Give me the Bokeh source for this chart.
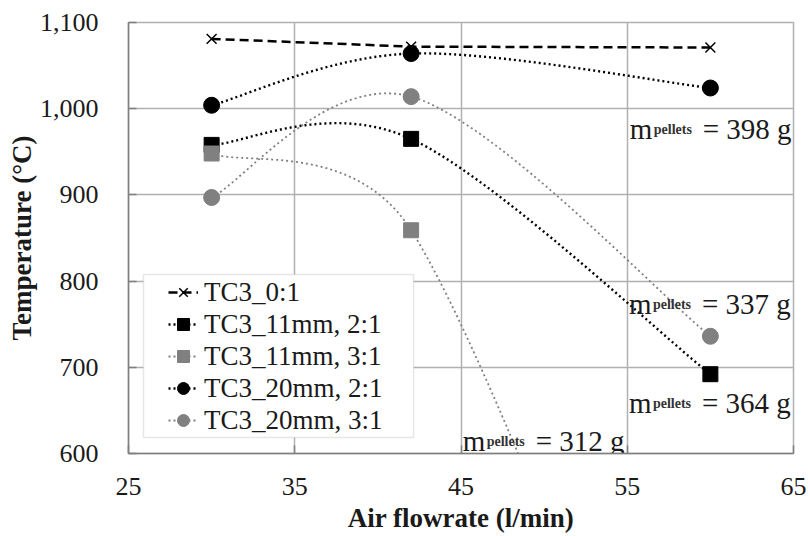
import numpy as np
from bokeh.plotting import figure
from bokeh.models import (Range1d, Legend, LegendItem, ColumnDataSource, FixedTicker,
                          NumeralTickFormatter, BoxAnnotation)
from bokeh.core.properties import value
from bokeh.embed import file_html
from bokeh.resources import INLINE

# ---------------- data ----------------
x_flow = [30, 42, 60]
tc3_0_1 = [1081, 1072, 1071]
tc3_11mm_2_1 = [958, 965, 692]
tc3_11mm_3_1 = [948, 859, 40]
tc3_20mm_2_1 = [1004, 1064, 1024]
tc3_20mm_3_1 = [897, 1014, 736]
series_labels = ["TC3_0:1", "TC3_11mm, 2:1", "TC3_11mm, 3:1", "TC3_20mm, 2:1", "TC3_20mm, 3:1"]

note_x = [55.15, 55.1, 55.1, 45.1]
note_y = [977, 774, 659, 615]
note_main = ["m", "m", "m", "m"]
note_sub = ["pellets", "pellets", "pellets", "pellets"]
note_val = ["= 398 g", "= 337 g", "= 364 g", "= 312 g"]

x_ticks = [25, 35, 45, 55, 65]
y_ticks = [600, 700, 800, 900, 1000, 1100]

FONT = "Liberation Serif"
TXT = "#1a1a1a"
GRID = "#b0b0b0"
GRAY = "#808080"

# screen scale of the frame (pixels per data unit), used so the smoothing
# behaves like a spreadsheet's smoothed line, which works in screen space
PX_X = 665 / 40.0
PX_Y = 431 / 500.0


def smooth(xs, ys, n=80):
    """Spreadsheet-like smoothed line: cubic Bezier, 1/6 tangents capped at half segment."""
    P = [np.array([x * PX_X, y * PX_Y]) for x, y in zip(xs, ys)]
    ox, oy = [], []
    t = np.linspace(0, 1, n)
    for i in range(len(P) - 1):
        p0 = P[i - 1] if i > 0 else P[i]
        p1 = P[i]
        p2 = P[i + 1]
        p3 = P[i + 2] if i + 2 < len(P) else P[i + 1]
        d12 = np.linalg.norm(p2 - p1)
        d02 = np.linalg.norm(p2 - p0)
        d13 = np.linalg.norm(p3 - p1)
        f0 = 1 / 6.0
        f1 = 1 / 6.0
        if d02 > 0 and d02 / 6.0 >= d12 / 2.0:
            f0 = d12 / (2.0 * d02)
        if d13 > 0 and d13 / 6.0 >= d12 / 2.0:
            f1 = d12 / (2.0 * d13)
        c1 = p1 + (p2 - p0) * f0
        c2 = p2 - (p3 - p1) * f1
        a = (1 - t) ** 3
        b = 3 * (1 - t) ** 2 * t
        c = 3 * (1 - t) * t ** 2
        d = t ** 3
        ox.extend((a * p1[0] + b * c1[0] + c * c2[0] + d * p2[0]) / PX_X)
        oy.extend((a * p1[1] + b * c1[1] + c * c2[1] + d * p2[1]) / PX_Y)
    return ox, oy


p = figure(width=810, height=536, output_backend="svg", toolbar_location=None,
           x_range=Range1d(25, 65), y_range=Range1d(600, 1100),
           min_border_left=128, min_border_right=17, min_border_top=22, min_border_bottom=83)

p.outline_line_color = GRID
p.outline_line_width = 1.5
p.background_fill_color = "white"
p.border_fill_color = "white"

for ax in (p.xaxis[0], p.yaxis[0]):
    ax.axis_line_color = "#7f7f7f"
    ax.axis_line_width = 1.5
    ax.major_tick_line_color = "#7f7f7f"
    ax.major_tick_line_width = 1.5
    ax.major_tick_in = 8
    ax.major_tick_out = 0
    ax.minor_tick_line_color = None
    ax.major_label_text_font = FONT
    ax.major_label_text_font_size = "26px"
    ax.major_label_text_color = TXT
    ax.axis_label_text_font = FONT
    ax.axis_label_text_font_style = "bold"
    ax.axis_label_text_font_size = "27px"
    ax.axis_label_text_color = TXT

p.xaxis.ticker = FixedTicker(ticks=x_ticks)
p.yaxis.ticker = FixedTicker(ticks=y_ticks)
p.yaxis.formatter = NumeralTickFormatter(format="0,0")
p.xaxis.axis_label = "Air flowrate (l/min)"
p.yaxis.axis_label = "Temperature (°C)"
p.xaxis.major_label_standoff = 24
p.yaxis.major_label_standoff = 30
p.xaxis.axis_label_standoff = 5
p.yaxis.axis_label_standoff = 0

p.xgrid.ticker = FixedTicker(ticks=x_ticks)
p.ygrid.ticker = FixedTicker(ticks=y_ticks)
p.xgrid.grid_line_color = GRID
p.ygrid.grid_line_color = GRID
p.xgrid.grid_line_width = 1.5
p.ygrid.grid_line_width = 1.5

items = []

# TC3_0:1
l0 = p.line(x_flow, tc3_0_1, line_color="black", line_width=2.5, line_dash="9 5")
m0 = p.scatter(x_flow, tc3_0_1, marker="x", size=14, line_color="black", line_width=1.5)
items.append(LegendItem(label=series_labels[0], renderers=[l0, m0]))

specs = [
    (tc3_11mm_2_1, "black", "square", 15, 2.4),
    (tc3_11mm_3_1, GRAY, "square", 15, 1.8),
    (tc3_20mm_2_1, "black", "circle", 16, 2.4),
    (tc3_20mm_3_1, GRAY, "circle", 16, 1.8),
]
for (ys, col, mk, sz, lw), lab in zip(specs, series_labels[1:]):
    sx, sy = smooth(x_flow, ys)
    ln = p.line(sx, sy, line_color=col, line_width=lw, line_dash="2 3")
    mr = p.scatter(x_flow, ys, marker=mk, size=sz, fill_color=col, line_color=col)
    items.append(LegendItem(label=lab, renderers=[ln, mr]))

# legend frame
box = BoxAnnotation(left=25.9, right=42.15, bottom=618.5, top=807.7,
                    fill_color="white", fill_alpha=1.0,
                    line_color=GRID, line_width=1.5)
p.add_layout(box)

legend = Legend(items=items, location=(35, 12))
legend.border_line_alpha = 0
legend.background_fill_alpha = 0
legend.padding = 5
legend.spacing = 0
legend.label_height = 26
legend.glyph_height = 32
legend.glyph_width = 30
legend.label_standoff = 6
legend.label_text_font = FONT
legend.label_text_font_size = "27px"
legend.label_text_color = TXT
p.add_layout(legend, "center")

# annotations m_pellets = ... g
src = ColumnDataSource(dict(x=note_x, y=note_y, m=note_main, s=note_sub, v=note_val))
p.text("x", "y", text="m", source=src, text_font=value(FONT), text_font_size="29px",
       text_color=TXT, text_baseline="alphabetic", text_align="left")
p.text("x", "y", text="s", source=src, text_font=value(FONT), text_font_size="14px",
       text_font_style="bold", text_color="#333333", text_baseline="alphabetic",
       text_align="left", x_offset=24, y_offset=1)
p.text("x", "y", text="v", source=src, text_font=value(FONT), text_font_size="29px",
       text_color=TXT, text_baseline="alphabetic", text_align="left", x_offset=73)

open("out.html", "w").write(file_html(p, INLINE))
